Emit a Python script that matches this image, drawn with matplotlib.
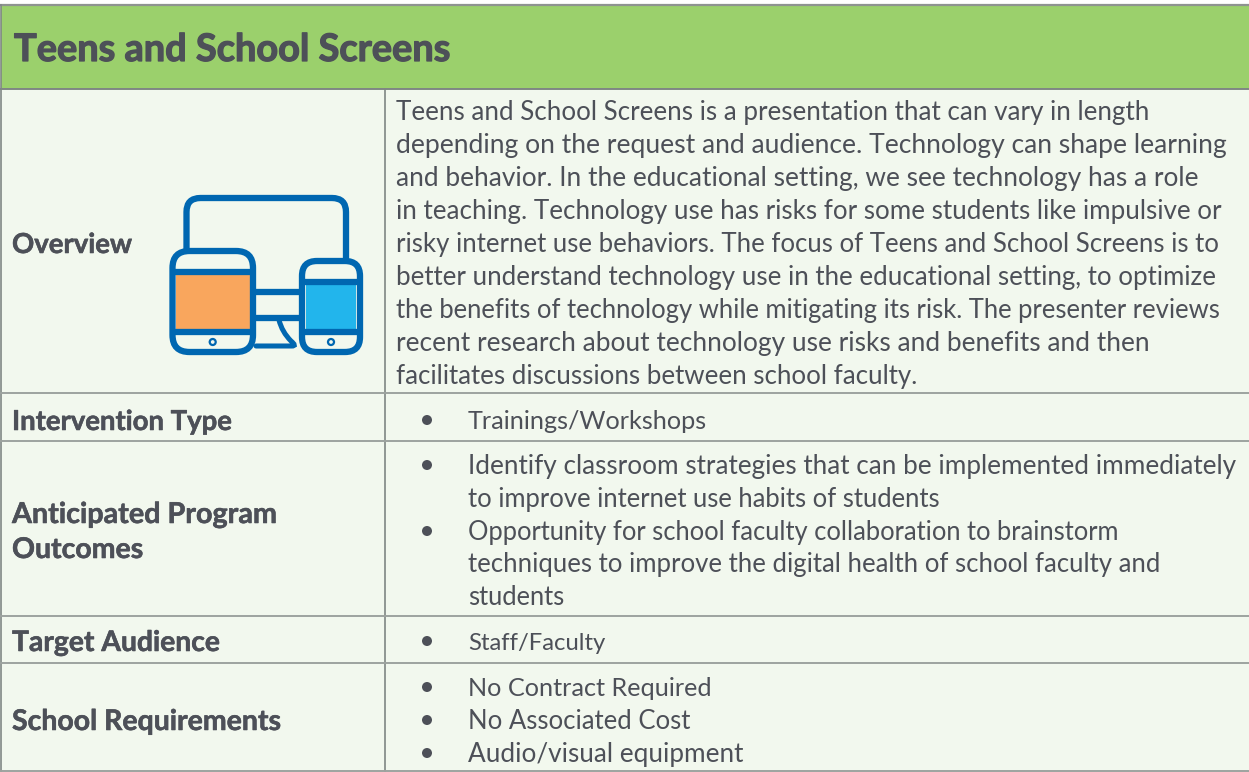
import matplotlib
matplotlib.use("Agg")
import matplotlib.pyplot as plt
import matplotlib.patheffects as pe
from matplotlib.patches import Rectangle, FancyBboxPatch, Circle, PathPatch
from matplotlib.path import Path

TITLE = "Teens and School Screens"
ROW_LABELS = ["Overview", "Intervention Type", "Anticipated Program",
              "Outcomes", "Target Audience", "School Requirements"]
ROW_LABEL_Y = [243, 420, 513, 548, 641, 720]
ROW_LABEL_RIGHT = [132, 232, 277, 143, 220, 281]
OVERVIEW = ["Teens and School Screens is a presentation that can vary in length",
            "depending on the request and audience. Technology can shape learning",
            "and behavior. In the educational setting, we see technology has a role",
            "in teaching. Technology use has risks for some students like impulsive or",
            "risky internet use behaviors. The focus of Teens and School Screens is to",
            "better understand technology use in the educational setting, to optimize",
            "the benefits of technology while mitigating its risk. The presenter reviews",
            "recent research about technology use risks and benefits and then",
            "facilitates discussions between school faculty."]
OVERVIEW_Y = [111, 144, 177, 210, 243, 276, 309, 342, 375]
OVERVIEW_RIGHT = [1150, 1230, 1199, 1222, 1216, 1219, 1223, 1147, 917]
BULLET_TEXT = ["Trainings/Workshops",
               "Identify classroom strategies that can be implemented immediately",
               "to improve internet use habits of students",
               "Opportunity for school faculty collaboration to brainstorm",
               "techniques to improve the digital health of school faculty and",
               "students", "Staff/Faculty", "No Contract Required",
               "No Associated Cost", "Audio/visual equipment"]
BULLET_Y = [420, 465, 498, 531, 563, 596, 641, 687, 720, 753]
BULLET_RIGHT = [708, 1238, 942, 1121, 1163, 565, 606, 713, 691, 743]
BULLET_MARK = [True, True, False, True, False, False, True, True, True, True]
ROW_LINES = [393, 441, 616, 663, 771]

INK = "#4D5058"; BG = "#F2F8EE"; GREEN = "#9BD06C"; RULE = "#7F8784"
BLUE = "#0067B1"; ORANGE = "#F9A65D"; SKY = "#22B5EC"
FONT = "Lato"

fig = plt.figure(figsize=(12.49, 7.72), dpi=100, facecolor="white")
ax = fig.add_axes([0, 0, 1, 1])
ax.set_xlim(0, 1249); ax.set_ylim(772, 0); ax.axis("off")
renderer = fig.canvas.get_renderer()

def fitted(x, y, s, right, size, weight="normal", stroke=0):
    t = ax.text(x, y, s, fontsize=size, fontweight=weight, family=FONT, color=INK, va="baseline")
    t.set_fontsize(size * (right - x) / t.get_window_extent(renderer).width)
    if stroke:
        t.set_path_effects([pe.withStroke(linewidth=stroke, foreground=INK)])
    return t

ax.add_patch(Rectangle((1.5, 89), 1248, 683, fc=BG, ec="none", zorder=0))
ax.add_patch(Rectangle((1.5, 5), 1248, 84, fc=GREEN, ec="none", zorder=0))
ax.plot([0, 1249], [5, 5], color="#8E9390", lw=1.6, zorder=1)
ax.plot([1.5, 1.5], [5, 772], color=RULE, lw=1.2, zorder=1)
ax.plot([0, 1249], [89, 89], color=RULE, lw=1.4, zorder=1)
ax.plot([385, 385], [89, 772], color=RULE, lw=1.2, zorder=1)
for y in ROW_LINES:
    ax.plot([0, 1249], [y, y], color="#9DA39F", lw=1.4, zorder=1)

fitted(14, 61, TITLE, 450, 27, "bold", stroke=0.9)
for s, y, r_ in zip(ROW_LABELS, ROW_LABEL_Y, ROW_LABEL_RIGHT):
    fitted(12, y + 10, s, r_, 20, "bold", stroke=0.4)
for s, y, r_ in zip(OVERVIEW, OVERVIEW_Y, OVERVIEW_RIGHT):
    fitted(396, y + 9, s, r_, 19)
for s, y, r_, b in zip(BULLET_TEXT, BULLET_Y, BULLET_RIGHT, BULLET_MARK):
    fitted(468, y + 9, s, r_, 19)
    if b:
        ax.add_patch(Circle((427, y), 5, fc=INK, ec="none"))

# icon
lw = 6.3 * 72 / 100
def rbox(x0, y0, x1, y1, r, fc="none", z=3):
    ax.add_patch(FancyBboxPatch((x0 + r, y0 + r), x1 - x0 - 2 * r, y1 - y0 - 2 * r,
                                boxstyle=f"round,pad={r},rounding_size={r}",
                                fc=fc, ec=BLUE, lw=lw, zorder=z))
r = 14
mon = Path([(186.5, 252), (186.5, 198 + r), (186.5, 198), (186.5 + r, 198),
            (346 - r, 198), (346, 198), (346, 198 + r), (346, 262)],
           [Path.MOVETO, Path.LINETO, Path.CURVE3, Path.CURVE3,
            Path.LINETO, Path.CURVE3, Path.CURVE3, Path.LINETO])
ax.add_patch(PathPatch(mon, fc="none", ec=BLUE, lw=lw, capstyle="butt", zorder=2))
stand = Path([(279, 320), (282, 332), (291, 341), (297, 346), (292, 346), (256, 346)],
             [Path.MOVETO, Path.CURVE3, Path.CURVE3, Path.CURVE3, Path.CURVE3, Path.LINETO])
ax.add_patch(PathPatch(stand, fc="none", ec=BLUE, lw=lw * 0.8, capstyle="round", zorder=2))
ax.plot([255, 300], [291.5, 291.5], color=BLUE, lw=lw, solid_capstyle="butt", zorder=2)
ax.plot([255, 300], [318, 318], color=BLUE, lw=lw, solid_capstyle="butt", zorder=2)

ax.add_patch(Rectangle((176, 275), 74, 54, fc=ORANGE, ec="none", zorder=2))
ax.add_patch(Rectangle((306, 285), 50, 44, fc=SKY, ec="none", zorder=2))
rbox(172.5, 251, 253, 352, 17)
rbox(302, 261, 360, 352, 15)
for x0, x1, ys in [(172.5, 253, (272, 332)), (302, 360, (282, 332))]:
    for y in ys:
        ax.plot([x0, x1], [y, y], color=BLUE, lw=lw, solid_capstyle="butt", zorder=3)
for cx in (212.7, 331):
    ax.add_patch(Circle((cx, 342), 3, fc="none", ec=BLUE, lw=1.6, zorder=3))

fig.savefig("out.png", dpi=100, facecolor="white")
